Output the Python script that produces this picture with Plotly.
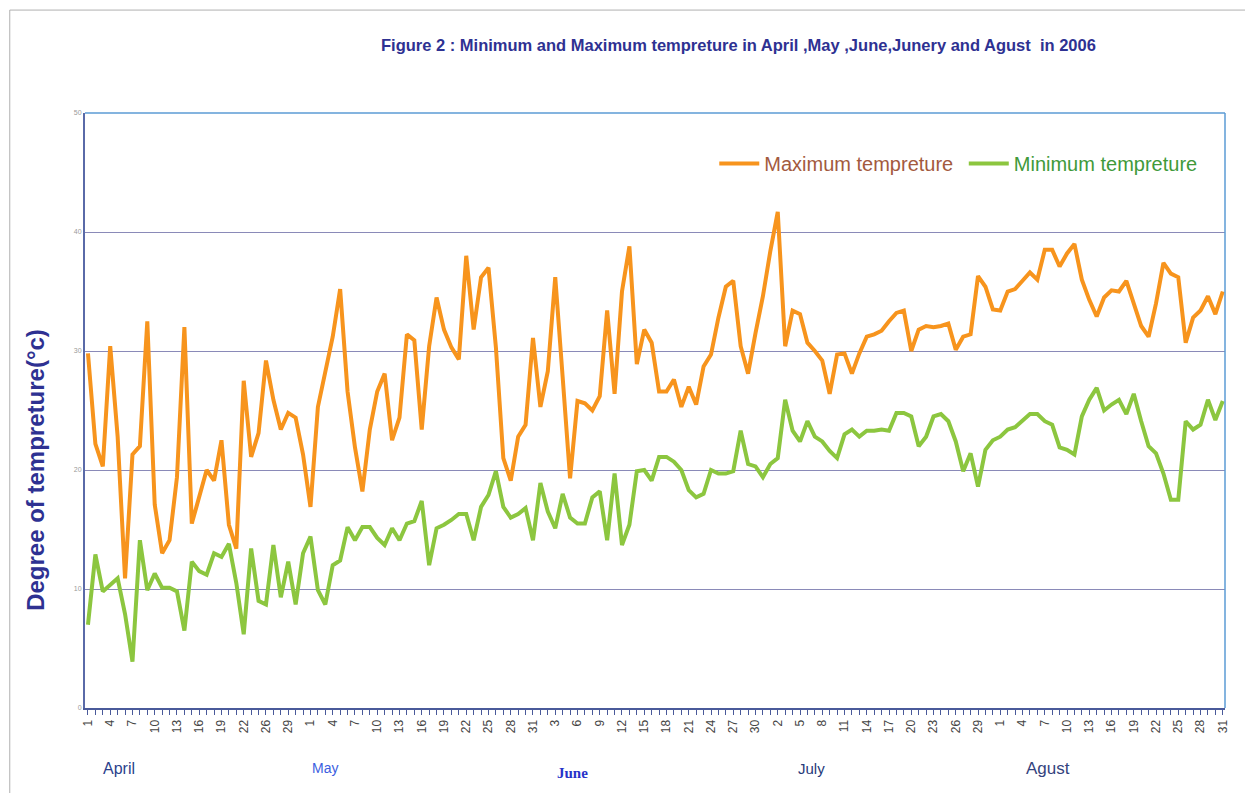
import plotly.graph_objects as go

# Daily maximum and minimum temperatures, 1 April - 31 August 2006 (°C)
max_temp = [
    29.8, 22.2, 20.3, 30.4, 22.8, 10.9, 21.3, 22.0, 32.5, 17.1,
    13.0, 14.1, 19.4, 32.0, 15.5, 17.9, 20.0, 19.1, 22.5, 15.4,
    13.4, 27.5, 21.1, 23.1, 29.2, 25.9, 23.4, 24.8, 24.4, 21.3,
    16.9, 25.3, 28.4, 31.2, 35.2, 26.6, 21.9, 18.2, 23.4, 26.6,
    28.1, 22.5, 24.4, 31.4, 30.9, 23.4, 30.4, 34.5, 31.8, 30.3,
    29.3, 38.0, 31.8, 36.2, 37.0, 30.3, 21.0, 19.1, 22.8, 23.8,
    31.1, 25.3, 28.3, 36.2, 27.8, 19.3, 25.8, 25.6, 25.0, 26.2,
    33.4, 26.4, 35.0, 38.8, 28.9, 31.8, 30.7, 26.6, 26.6, 27.6,
    25.3, 27.0, 25.5, 28.7, 29.7, 32.8, 35.4, 35.9, 30.4, 28.1,
    31.5, 34.6, 38.4, 41.7, 30.4, 33.4, 33.1, 30.7, 30.0, 29.2,
    26.4, 29.7, 29.8, 28.1, 29.8, 31.2, 31.4, 31.7, 32.5, 33.2,
    33.4, 30.0, 31.8, 32.1, 32.0, 32.1, 32.3, 30.1, 31.2, 31.4,
    36.3, 35.4, 33.5, 33.4, 35.0, 35.2, 35.9, 36.6, 36.0, 38.5,
    38.5, 37.1, 38.2, 39.0, 36.0, 34.3, 32.9, 34.5, 35.1, 35.0,
    35.9, 34.0, 32.1, 31.2, 34.0, 37.4, 36.5, 36.2, 30.7, 32.8,
    33.4, 34.6, 33.1, 35.0,
]

min_temp = [
    7.0, 12.9, 9.8, 10.4, 10.9, 7.9, 3.9, 14.1, 9.9, 11.3,
    10.1, 10.1, 9.8, 6.5, 12.3, 11.5, 11.2, 13.0, 12.7, 13.8,
    10.5, 6.2, 13.4, 9.0, 8.7, 13.7, 9.3, 12.3, 8.7, 13.0,
    14.4, 9.9, 8.7, 12.0, 12.4, 15.2, 14.1, 15.2, 15.2, 14.3,
    13.7, 15.1, 14.1, 15.5, 15.7, 17.4, 12.0, 15.1, 15.4, 15.8,
    16.3, 16.3, 14.1, 16.9, 17.9, 19.9, 16.9, 16.0, 16.3, 16.8,
    14.1, 18.9, 16.5, 15.1, 18.0, 16.0, 15.5, 15.5, 17.7, 18.2,
    14.1, 19.7, 13.7, 15.4, 19.9, 20.0, 19.1, 21.1, 21.1, 20.7,
    20.0, 18.3, 17.7, 18.0, 20.0, 19.7, 19.7, 19.9, 23.3, 20.5,
    20.3, 19.4, 20.5, 21.0, 25.9, 23.3, 22.4, 24.1, 22.8, 22.4,
    21.6, 21.0, 23.0, 23.4, 22.8, 23.3, 23.3, 23.4, 23.3, 24.8,
    24.8, 24.5, 22.0, 22.8, 24.5, 24.7, 24.1, 22.4, 19.9, 21.4,
    18.6, 21.7, 22.5, 22.8, 23.4, 23.6, 24.2, 24.7, 24.7, 24.1,
    23.8, 21.9, 21.7, 21.3, 24.5, 25.9, 26.9, 25.0, 25.5, 25.9,
    24.7, 26.4, 24.1, 22.0, 21.4, 19.7, 17.5, 17.5, 24.1, 23.4,
    23.8, 25.9, 24.2, 25.8,
]

# Day-of-month labels shown on every third day
tick_labels = [
    "1", "4", "7", "10", "13", "16", "19", "22", "26", "29",
    "1", "4", "7", "10", "13", "16", "19", "22", "25", "28", "31",
    "3", "6", "9", "12", "15", "18", "21", "24", "27", "30",
    "2", "5", "8", "11", "14", "17", "20", "23", "26", "29",
    "1", "4", "7", "10", "13", "16", "19", "22", "25", "28", "31",
]

month_names = ["April", "May", "June", "July", "Agust"]
y_ticks = [0, 10, 20, 30, 40, 50]

days = list(range(len(max_temp)))
label_step = 3
tick_text = []
for d in days:
    tick_text.append(tick_labels[d // label_step] if d % label_step == 0 else "")

FONT = "Liberation Sans, Arial, sans-serif"
NAVY = "#2e3192"

fig = go.Figure()
fig.add_trace(go.Scatter(
    x=days, y=max_temp, mode="lines",
    name="<span style='color:#a35a3e'>Maximum tempreture</span>\u00a0",
    line=dict(color="#f7941d", width=4),
))
fig.add_trace(go.Scatter(
    x=days, y=min_temp, mode="lines",
    name="<span style='color:#3f9a3a'>Minimum tempreture</span>",
    line=dict(color="#8cc63f", width=4),
))

fig.update_layout(
    width=1245, height=793,
    margin=dict(l=85, r=20, t=113, b=85),
    paper_bgcolor="white", plot_bgcolor="white",
    font=dict(family=FONT, color="#333333"),
    showlegend=True,
    legend=dict(
        orientation="h", x=0.552, y=0.948, xanchor="left", yanchor="top",
        bgcolor="rgba(0,0,0,0)", font=dict(size=20, family=FONT),
        itemwidth=40, tracegroupgap=0,
    ),
    xaxis=dict(
        range=[-0.4, len(days) - 0.7],
        tickmode="array", tickvals=days, ticktext=tick_text,
        tickangle=-90, tickfont=dict(size=12, color="#444444"),
        ticks="outside", ticklen=5, tickcolor="#4a5a9a",
        showgrid=False, zeroline=False,
        showline=True, linecolor="#4a5a9a", linewidth=2,
    ),
    yaxis=dict(
        range=[0, 50], tickmode="array", tickvals=y_ticks,
        tickfont=dict(size=7, color="#9a9a9a"),
        ticks="", showgrid=True, gridcolor="#8a8ab8", gridwidth=1,
        zeroline=False, showline=True, linecolor="#5a6aa8", linewidth=2,
    ),
)

# Light blue frame on the top and right of the plot area
fig.add_shape(type="line", xref="paper", yref="paper", x0=0, x1=1, y0=1, y1=1,
              line=dict(color="#5b9bd5", width=1.5))
fig.add_shape(type="line", xref="paper", yref="paper", x0=1, x1=1, y0=0, y1=1,
              line=dict(color="#5b9bd5", width=1.5))

# Thin outer border of the chart
fig.add_shape(type="line", xref="paper", yref="paper", x0=-0.066, x1=1.02, y0=1.173, y1=1.173,
              line=dict(color="#b0b0b0", width=1))
fig.add_shape(type="line", xref="paper", yref="paper", x0=-0.066, x1=-0.066, y0=-0.15, y1=1.173,
              line=dict(color="#b0b0b0", width=1))

fig.add_annotation(
    text="<b>Figure 2 : Minimum and Maximum tempreture in April ,May ,June,Junery and Agust  in 2006</b>",
    xref="paper", yref="paper", x=0.573, y=1.114, xanchor="center", yanchor="middle",
    showarrow=False, font=dict(size=16.5, color=NAVY, family=FONT),
)
fig.add_annotation(
    text="<b>Degree of tempreture(°c)</b>", textangle=-90,
    xref="paper", yref="paper", x=-0.044, y=0.40, xanchor="center", yanchor="middle",
    showarrow=False, font=dict(size=24, color=NAVY, family=FONT),
)

# Month captions under the axis
month_styles = [
    dict(x=0.0298, y=-0.101, size=16, color="#2b3f8c", family=FONT),
    dict(x=0.2105, y=-0.101, size=14, color="#3c5ee0", family=FONT),
    dict(x=0.4272, y=-0.110, size=15, color="#2633c9", family="Liberation Serif, serif"),
    dict(x=0.6377, y=-0.101, size=15, color="#273a7a", family=FONT),
    dict(x=0.8447, y=-0.101, size=17, color="#34437e", family=FONT),
]
for name, st in zip(month_names, month_styles):
    txt = f"<b>{name}</b>" if name == "June" else name
    fig.add_annotation(
        text=txt, xref="paper", yref="paper", x=st["x"], y=st["y"],
        xanchor="center", yanchor="middle", showarrow=False,
        font=dict(size=st["size"], color=st["color"], family=st["family"]),
    )

fig.write_html("out.html")
